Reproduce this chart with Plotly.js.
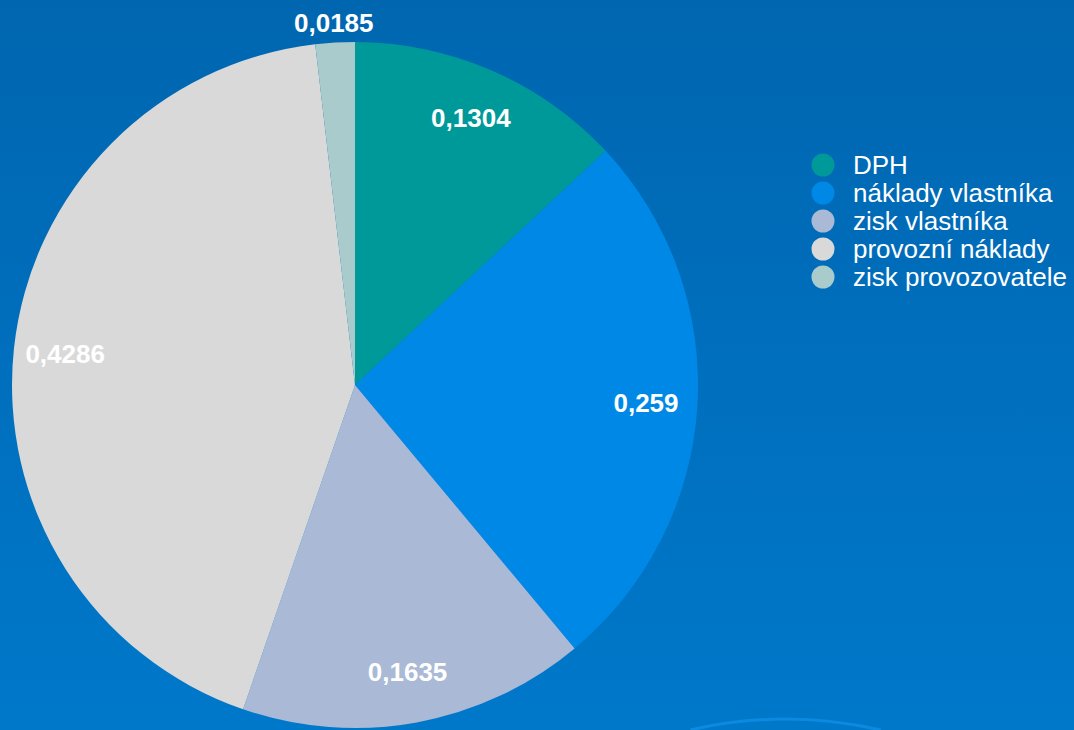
<!DOCTYPE html>
<html>
<head>
<meta charset="utf-8">
<script src="https://cdn.plot.ly/plotly-3.0.1.min.js"></script>
<style>
  html, body { margin: 0; padding: 0; }
  body { width: 1074px; height: 730px; background: linear-gradient(to bottom, #0066b0 0%, #0078ca 100%); overflow: hidden; }
  #chart { width: 1074px; height: 730px; }
</style>
</head>
<body>
<div id="chart"></div>
<script>
const categories = ['DPH', 'náklady vlastníka', 'zisk vlastníka', 'provozní náklady', 'zisk provozovatele'];
const values = [0.1304, 0.259, 0.1635, 0.4286, 0.0185];
const colors = ['#009999', '#0088e6', '#a9b9d6', '#d9d9d9', '#a9cbcb'];
const valueLabels = values.map(v => String(v).replace('.', ','));

const W = 1074, H = 730;
const cx = 355, cy = 385, R = 343;
const pieDomain = {
  x: [(cx - R) / W, (cx + R) / W],
  y: [(H - cy - R) / H, (H - cy + R) / H]
};
const FONT = 'Liberation Sans, Arial, sans-serif';
const labelFont = { family: FONT, size: 26, color: '#ffffff', weight: 'bold' };

// main pie with the coloured slices
const mainPie = {
  type: 'pie',
  labels: categories,
  values: values,
  sort: false,
  direction: 'clockwise',
  rotation: 0,
  domain: pieDomain,
  marker: { colors: colors, line: { width: 0 } },
  textinfo: 'none',
  showlegend: false,
  hoverinfo: 'label+value'
};

// transparent ring carrying the inside labels near the rim
const labelRing = {
  type: 'pie',
  labels: categories,
  values: values,
  sort: false,
  direction: 'clockwise',
  rotation: 0,
  hole: 0.7,
  domain: pieDomain,
  marker: { colors: categories.map(() => 'rgba(0,0,0,0)'), line: { width: 0 } },
  text: valueLabels.map((t, i) => i === 4 ? '' : t),
  textinfo: 'text',
  textposition: 'inside',
  insidetextorientation: 'horizontal',
  insidetextfont: labelFont,
  showlegend: false,
  hoverinfo: 'skip'
};

// label of the tiny slice: placed just outside the rim at the slice's mid-angle
const total = values.reduce((a, b) => a + b, 0);
const before = values.slice(0, 4).reduce((a, b) => a + b, 0);
const midAngle = (before + values[4] / 2) / total * 2 * Math.PI;
const outR = R + 20;
const annotations = [{
  xref: 'paper', yref: 'paper',
  x: (cx + outR * Math.sin(midAngle)) / W,
  y: (H - (cy - outR * Math.cos(midAngle))) / H,
  xanchor: 'center', yanchor: 'middle',
  text: valueLabels[4],
  showarrow: false,
  font: labelFont
}];

// legend: round swatches with labels
const shapes = [];
const legX = 823, legY0 = 165, legStep = 28, dot = 23;
categories.forEach((c, i) => {
  const yy = legY0 + i * legStep;
  shapes.push({
    type: 'circle', xref: 'paper', yref: 'paper',
    x0: (legX - dot / 2) / W, x1: (legX + dot / 2) / W,
    y0: (H - yy - dot / 2) / H, y1: (H - yy + dot / 2) / H,
    fillcolor: colors[i], line: { width: 0 }
  });
  annotations.push({
    xref: 'paper', yref: 'paper',
    x: 851 / W, y: (H - yy) / H,
    xanchor: 'left', yanchor: 'middle',
    text: c, showarrow: false,
    font: { family: FONT, size: 26, color: '#ffffff' }
  });
});

// faint decorative arc at the bottom of the slide
shapes.push({
  type: 'path', xref: 'paper', yref: 'paper',
  path: 'M 0.643 0.0 Q 0.73 0.03 0.82 0.0',
  line: { color: '#0a8ae0', width: 3 }
});

const layout = {
  width: W, height: H,
  margin: { l: 0, r: 0, t: 0, b: 0 },
  paper_bgcolor: 'rgba(0,0,0,0)',
  plot_bgcolor: 'rgba(0,0,0,0)',
  showlegend: false,
  annotations: annotations,
  shapes: shapes
};

Plotly.newPlot('chart', [mainPie, labelRing], layout, { displayModeBar: false, staticPlot: true });
</script>
</body>
</html>
